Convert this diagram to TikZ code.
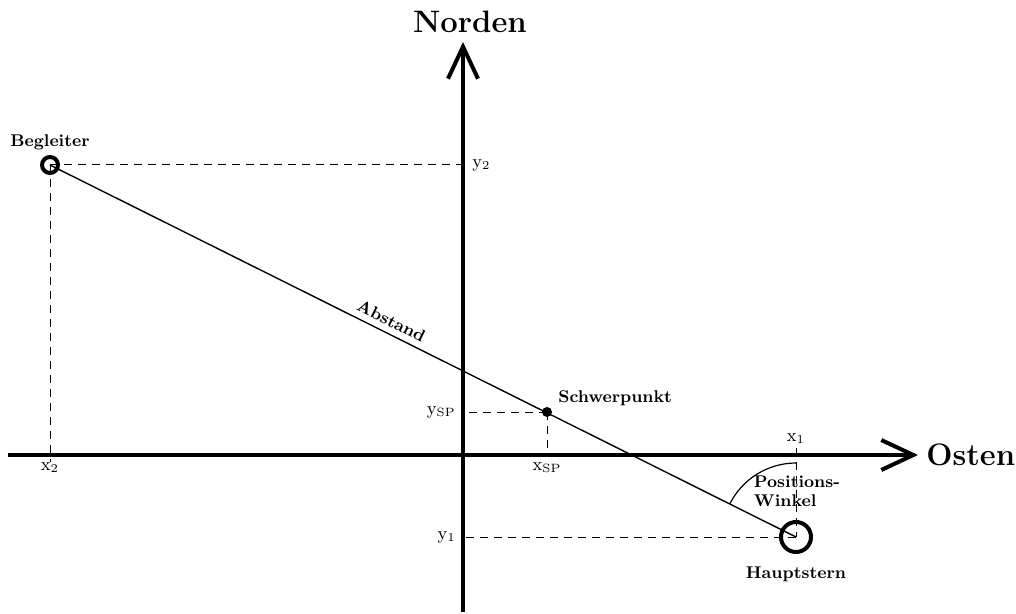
\documentclass[tikz,border=0pt]{standalone}
\usepackage{tikz}
\usetikzlibrary{arrows.meta,positioning,calc}
\tikzset{
  axis line/.style  = {line width=2pt, -{Straight Barb[length=16pt,width=15pt,line width=2pt]}},
  axis label/.style = {font=\fontsize{15.5}{18}\selectfont\bfseries, inner sep=1pt},
  star mark/.style  = {draw, circle, line width=2pt, inner sep=0pt},
  name label/.style = {font=\fontsize{8.5}{9.5}\selectfont\bfseries, align=left, inner sep=1pt},
  coord label/.style= {font=\fontsize{9}{10}\selectfont, inner sep=1pt},
  helper/.style     = {dashed, dash pattern=on 4pt off 3pt, line width=0.5pt},
}
\begin{document}
\begin{tikzpicture}[x=0.5pt, y=-0.5pt]
  \useasboundingbox (0,0) rectangle (1016,614);

  %% --- axes -----------------------------------------------------
  \coordinate (O) at (463,455);
  \coordinate (west) at (8,455);
  \coordinate (east) at (918,455);
  \coordinate (south) at (463,612);
  \coordinate (north) at (463,42);
  \draw[axis line] (west) -- (east);
  \draw[axis line] (south) -- (north);
  \node[axis label, anchor=west] (osten) at (924,455) {Osten};
  \node[axis label] (norden) at (470,22) {Norden};

  %% --- stars ----------------------------------------------------
  \node[star mark, minimum size=8pt] (begl) at (50,165) {};
  \node[star mark, minimum size=15pt] (haupt) at (796,537) {};
  \node[circle, fill, inner sep=0pt, minimum size=5pt] (sp) at (547,412) {};

  \draw[line width=0.7pt] (begl.center) -- node[pos=0.45, sloped, above=2pt, name label] (abst) {Abstand} (haupt.center);

  %% --- projections ----------------------------------------------
  \coordinate (x2) at (50,462);
  \coordinate (x1) at (796,448);
  \draw[helper] (begl.center) -- (begl.center -| O);
  \draw[helper] (begl.center) -- (x2);
  \draw[helper] (sp.center) -- (sp.center -| O);
  \draw[helper] (sp.center) -- (sp.center |- O);
  \draw[helper] (haupt.center) -- (haupt.center -| O);
  \draw[helper] (x1) -- (haupt.center);

  %% --- position angle -------------------------------------------
  \draw[line width=0.6pt] ($(haupt.center)+(0,-74)$) arc[start angle=-90, end angle=-153.5, radius=74];

  %% --- labels ---------------------------------------------------
  \node[name label] (bl) at (50,142) {Begleiter};
  \node[name label] (hl) at (796,574) {Hauptstern};
  \node[name label, anchor=west] (sl) at (556,398) {Schwerpunkt};
  \node[name label] (pw) at (797,491) {Positions-\\Winkel};
  \node[coord label, anchor=west] (ly2) at (470,165) {y\textsubscript{2}};
  \node[coord label, anchor=north] (lx2) at (50,460) {x\textsubscript{2}};
  \node[coord label, anchor=east] (lysp) at (458,412) {y\textsubscript{SP}};
  \node[coord label, anchor=north] (lxsp) at (547,460) {x\textsubscript{SP}};
  \node[coord label, anchor=south] (lx1) at (796,446) {x\textsubscript{1}};
  \node[coord label, anchor=east] (ly1) at (458,537) {y\textsubscript{1}};
\end{tikzpicture}
\end{document}
